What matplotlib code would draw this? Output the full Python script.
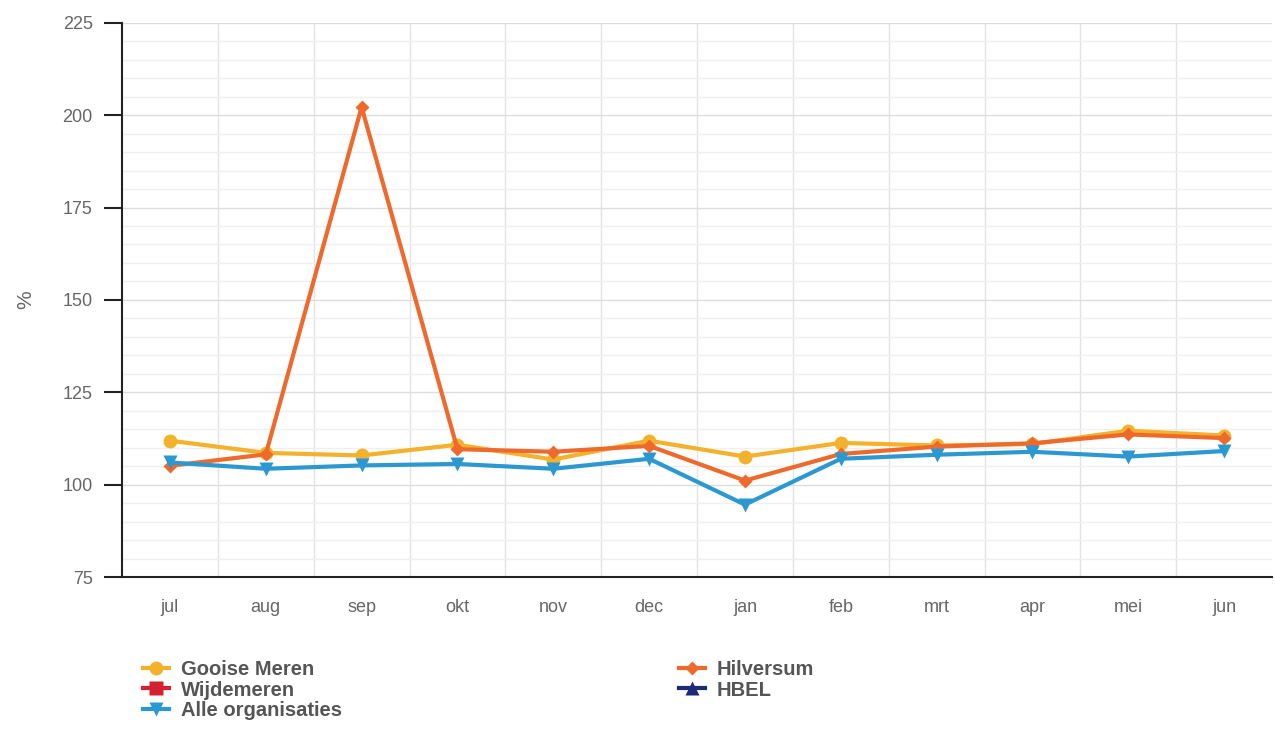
#!/usr/bin/env python3
"""Lijndiagram: percentage per maand voor de organisaties (matplotlib PNG)."""
import matplotlib
matplotlib.use("Agg")
import matplotlib.pyplot as plt
import numpy as np
from matplotlib.ticker import MultipleLocator

months = ["jul", "aug", "sep", "okt", "nov", "dec", "jan", "feb", "mrt", "apr", "mei", "jun"]
gooise_meren = [111.9, 108.6, 107.9, 110.8, 106.8, 111.9, 107.6, 111.3, 110.6, 111.0, 114.6, 113.3]
hilversum = [105.1, 108.2, 202.2, 109.6, 108.9, 110.5, 101.1, 108.3, 110.3, 111.2, 113.6, 112.6]
wijdemeren = []
hbel = []
alle_organisaties = [106.0, 104.3, 105.2, 105.6, 104.3, 107.0, 94.6, 107.0, 108.1, 108.9, 107.6, 109.1]

plt.rcParams["font.family"] = ["Liberation Sans", "DejaVu Sans"]

fig = plt.figure(figsize=(12.75, 7.36), dpi=100)
ax = fig.add_axes([0.0957, 0.216, 0.902, 0.753])

x = np.arange(len(months))
series = [
    ("Gooise Meren", gooise_meren, "#f3b12c", "o"),
    ("Hilversum", hilversum, "#ee6a2c", "D"),
    ("Wijdemeren", wijdemeren, "#d42030", "s"),
    ("HBEL", hbel, "#1c2a78", "^"),
    ("Alle organisaties", alle_organisaties, "#2b98d2", "v"),
]
handles = {}
for name, vals, color, marker in series:
    ms = 7.5 if marker == "D" else 10
    xs = x[: len(vals)]
    ln, = ax.plot(xs, vals, color=color, marker=marker, label=name,
                  linewidth=3, markersize=ms, markeredgecolor="none")
    handles[name] = ln

ax.set_xlim(-0.5, len(months) - 0.5)
ax.set_ylim(75, 225)
ax.yaxis.set_major_locator(MultipleLocator(25))
ax.yaxis.set_minor_locator(MultipleLocator(5))
ax.set_xticks(x, months)
ax.set_xticks(x[:-1] + 0.5, minor=True)

ax.grid(True, which="major", axis="y", color="#dddddd", linewidth=1)
ax.grid(True, which="minor", axis="y", color="#efefef", linewidth=1)
ax.grid(True, which="minor", axis="x", color="#e3e3e3", linewidth=1)
ax.set_axisbelow(True)

for s in ("top", "right"):
    ax.spines[s].set_visible(False)
ax.spines["left"].set_color("#222222")
ax.spines["bottom"].set_color("#222222")
ax.spines["left"].set_linewidth(1.5)
ax.spines["bottom"].set_linewidth(1.5)

ax.tick_params(axis="y", which="major", length=13, width=1.5, color="#222222",
               labelsize=13, labelcolor="#666666", pad=8)
ax.tick_params(axis="y", which="minor", length=0)
ax.tick_params(axis="x", which="both", length=0, labelsize=13, labelcolor="#666666", pad=16)

ax.set_ylabel("%", fontsize=15, color="#666666", labelpad=20)

order = ["Gooise Meren", "Wijdemeren", "Alle organisaties", "Hilversum", "HBEL"]
leg = fig.legend([handles[n] for n in order], order, ncol=2, loc="upper left",
                 bbox_to_anchor=(0.098, 0.128), frameon=False, columnspacing=16.7,
                 handlelength=1.3, handletextpad=0.6, labelspacing=0.08,
                 prop={"size": 14.5, "weight": "bold"})
for t in leg.get_texts():
    t.set_color("#555555")

fig.savefig("out.png", dpi=100)
plt.close(fig)
